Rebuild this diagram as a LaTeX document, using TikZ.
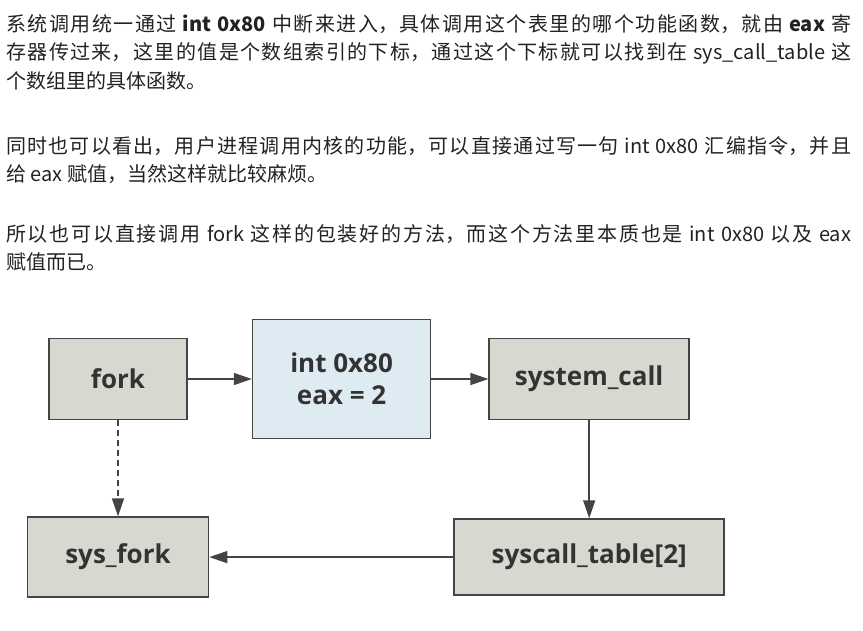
\documentclass[tikz,border=0pt]{standalone}
\usepackage{fontspec}
\setmainfont{Noto Sans CJK SC}
\newfontfamily\boxfont{Open Sans}
\usetikzlibrary{positioning,arrows.meta}

\XeTeXlinebreaklocale "zh"
\XeTeXlinebreakskip=0pt plus 2pt

\definecolor{boxgray}{HTML}{D8D8D0}
\definecolor{boxblue}{HTML}{DEEBF3}
\definecolor{edgegray}{HTML}{444444}
\definecolor{inkgray}{HTML}{333333}
\definecolor{textink}{HTML}{222222}

\begin{document}
\begin{tikzpicture}[
  x=1pt,y=-1pt,
  box/.style={draw=edgegray,line width=1.6pt,fill=boxgray,text=inkgray,
    font=\boxfont\fontsize{26}{32}\selectfont\bfseries,align=center,inner sep=0pt},
  para/.style={anchor=base west,inner sep=0pt,text width=845pt,align=justify,
    text=textink,font=\fontsize{20}{28.5}\selectfont},
  link/.style={draw=edgegray,line width=1.5pt,-{Triangle[length=18pt,width=12pt]}}
]
  \useasboundingbox (0,0) rectangle (863,630);

  % text above the diagram
  \node[para] (intro) at (6,31) {系统调用统一通过 \textbf{int 0x80} 中断来进入，具体调用这个表里的哪个功能函数，就由 \textbf{eax} 寄\linebreak
    存器传过来，这里的值是个数组索引的下标，通过这个下标就可以找到在 sys\_call\_table 这\linebreak
    个数组里的具体函数。};
  \node[para] (direct) at (6,153) {同时也可以看出，用户进程调用内核的功能，可以直接通过写一句 int 0x80 汇编指令，并且\linebreak
    给 eax 赋值，当然这样就比较麻烦。};
  \node[para] (wrapper) at (6,241) {所以也可以直接调用 fork 这样的包装好的方法，而这个方法里本质也是 int 0x80 以及 eax\linebreak
    赋值而已。};

  % the call path
  \node[box,minimum width=138pt,minimum height=81pt] (fork) at (118,379) {fork};
  \node[box,fill=boxblue,minimum width=178pt,minimum height=119pt,right=64pt of fork] (int) {int 0x80\\eax = 2};
  \node[box,minimum width=200pt,minimum height=81pt,right=57pt of int] (syscall) {system\_call};
  \node[box,minimum width=270pt,minimum height=76pt,below=98pt of syscall] (table) {syscall\_table[2]};
  \node[box,minimum width=181pt,minimum height=80pt,below=96pt of fork] (sysfork) {sys\_fork};

  \draw[link] (fork) -- (int);
  \draw[link] (int) -- (syscall);
  \draw[link] (syscall) -- (table);
  \draw[link] (table) -- (sysfork);
  \draw[link,dash pattern=on 6pt off 4pt] (fork) -- (sysfork);
\end{tikzpicture}
\end{document}
